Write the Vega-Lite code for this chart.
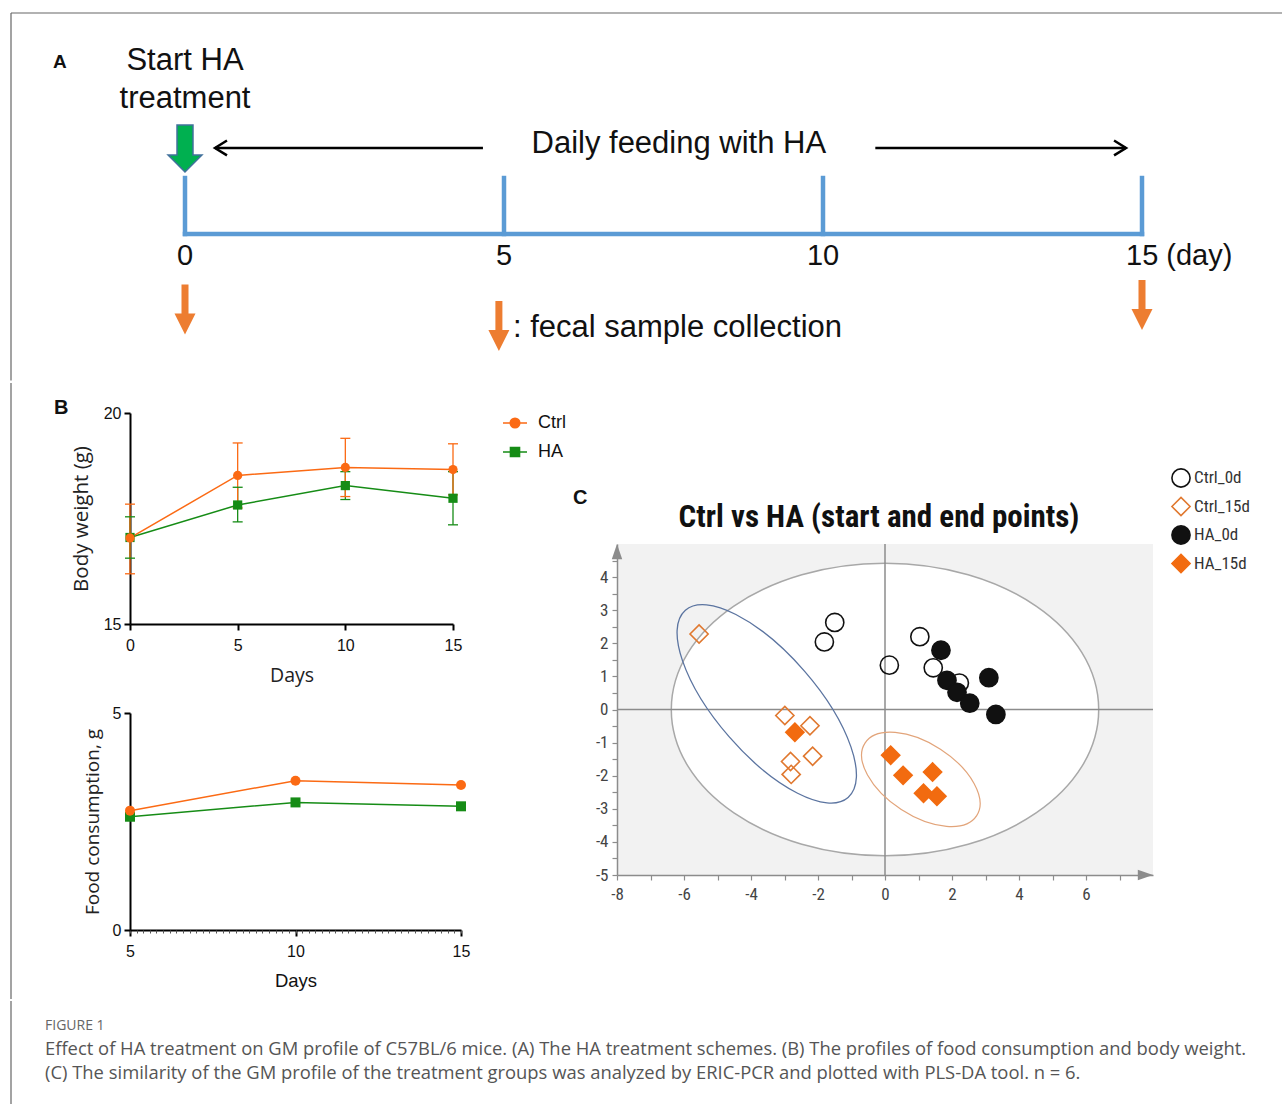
{
  "$schema": "https://vega.github.io/schema/vega-lite/v6.json",
  "background": "#ffffff",
  "padding": {"left": 10, "top": 12, "right": 0, "bottom": 0},
  "spacing": 0,
  "config": {"view": {"stroke": null}, "axis": {"grid": false, "labelFlush": false}},
  "resolve": {"scale": {"shape": "independent", "fill": "independent", "stroke": "independent", "color": "independent"}, "legend": {"shape": "independent", "fill": "independent", "stroke": "independent", "color": "independent"}},
  "datasets": {
    "bw": [
      {"day": 0, "group": "HA", "mean": 17.05, "lo": 16.56, "hi": 17.54},
      {"day": 5, "group": "HA", "mean": 17.82, "lo": 17.42, "hi": 18.24},
      {"day": 10, "group": "HA", "mean": 18.28, "lo": 17.95, "hi": 18.61},
      {"day": 15, "group": "HA", "mean": 17.98, "lo": 17.35, "hi": 18.61},
      {"day": 0, "group": "Ctrl", "mean": 17.04, "lo": 16.19, "hi": 17.84},
      {"day": 5, "group": "Ctrl", "mean": 18.52, "lo": 17.75, "hi": 19.29},
      {"day": 10, "group": "Ctrl", "mean": 18.71, "lo": 18.02, "hi": 19.40},
      {"day": 15, "group": "Ctrl", "mean": 18.66, "lo": 18.06, "hi": 19.27}
    ],
    "food": [
      {"day": 5, "group": "HA", "val": 2.61},
      {"day": 10, "group": "HA", "val": 2.94},
      {"day": 15, "group": "HA", "val": 2.85},
      {"day": 5, "group": "Ctrl", "val": 2.75},
      {"day": 10, "group": "Ctrl", "val": 3.44},
      {"day": 15, "group": "Ctrl", "val": 3.34}
    ],
    "pls": [
      {"group": "Ctrl_0d", "x": -1.50, "y": 2.63},
      {"group": "Ctrl_0d", "x": -1.81, "y": 2.04},
      {"group": "Ctrl_0d", "x": 1.04, "y": 2.20},
      {"group": "Ctrl_0d", "x": 0.13, "y": 1.34},
      {"group": "Ctrl_0d", "x": 1.44, "y": 1.26},
      {"group": "Ctrl_0d", "x": 2.22, "y": 0.80},
      {"group": "Ctrl_15d", "x": -5.55, "y": 2.28},
      {"group": "Ctrl_15d", "x": -2.99, "y": -0.18},
      {"group": "Ctrl_15d", "x": -2.24, "y": -0.49},
      {"group": "Ctrl_15d", "x": -2.16, "y": -1.41},
      {"group": "Ctrl_15d", "x": -2.82, "y": -1.57},
      {"group": "Ctrl_15d", "x": -2.80, "y": -1.96},
      {"group": "HA_0d", "x": 1.67, "y": 1.79},
      {"group": "HA_0d", "x": 1.85, "y": 0.88},
      {"group": "HA_0d", "x": 2.15, "y": 0.52},
      {"group": "HA_0d", "x": 2.53, "y": 0.19},
      {"group": "HA_0d", "x": 3.10, "y": 0.96},
      {"group": "HA_0d", "x": 3.31, "y": -0.15},
      {"group": "HA_15d", "x": -2.69, "y": -0.69},
      {"group": "HA_15d", "x": 0.17, "y": -1.38},
      {"group": "HA_15d", "x": 0.54, "y": -1.99},
      {"group": "HA_15d", "x": 1.42, "y": -1.89},
      {"group": "HA_15d", "x": 1.15, "y": -2.53},
      {"group": "HA_15d", "x": 1.55, "y": -2.62}
    ]
  },
  "vconcat": [
    {
      "width": 1272,
      "height": 367.6,
      "encoding": {
        "x": {"field": "d", "type": "quantitative", "scale": {"domain": [-2.7273, 17.21], "nice": false, "zero": false}, "axis": null},
        "y": {"field": "v", "type": "quantitative", "scale": {"domain": [0, 9.523], "reverse": true, "nice": false, "zero": false}, "axis": null}
      },
      "layer": [
        {
          "data": {"values": [{"d": -2.7273, "v": 0, "d2": 17.21, "v2": 0}, {"d": -2.7273, "v": 0, "d2": -2.7273, "v2": 9.523}]},
          "mark": {"type": "rule", "stroke": "#666666", "strokeWidth": 1.2},
          "encoding": {"x2": {"field": "d2"}, "y2": {"field": "v2"}}
        },
        {
          "data": {"values": [
            {"d": 0, "v": 5.725, "d2": 15, "v2": 5.725},
            {"d": 0, "v": 4.275, "d2": 0, "v2": 5.725},
            {"d": 5, "v": 4.275, "d2": 5, "v2": 5.725},
            {"d": 10, "v": 4.275, "d2": 10, "v2": 5.725},
            {"d": 15, "v": 4.275, "d2": 15, "v2": 5.725}
          ]},
          "mark": {"type": "rule", "stroke": "#5B9BD5", "strokeWidth": 4.5, "strokeCap": "square"},
          "encoding": {"x2": {"field": "d2"}, "y2": {"field": "v2"}}
        },
        {
          "data": {"values": [{"d": 0.47, "v": 3.497, "d2": 4.67, "v2": 3.497}, {"d": 10.82, "v": 3.497, "d2": 14.75, "v2": 3.497}]},
          "mark": {"type": "rule", "stroke": "#000000", "strokeWidth": 2.5},
          "encoding": {"x2": {"field": "d2"}, "y2": {"field": "v2"}}
        },
        {
          "data": {"values": [{"d": 0.47, "v": 3.497}]},
          "mark": {"type": "point", "shape": "M1,-0.62L0,0L1,0.62", "filled": false, "stroke": "#000000", "strokeWidth": 2.5, "size": 576, "opacity": 1}
        },
        {
          "data": {"values": [{"d": 14.75, "v": 3.497}]},
          "mark": {"type": "point", "shape": "M-1,-0.62L0,0L-1,0.62", "filled": false, "stroke": "#000000", "strokeWidth": 2.5, "size": 576, "opacity": 1}
        },
        {
          "data": {"values": [{"d": 0, "v": 3.51}]},
          "mark": {"type": "point", "shape": "M-0.34,-1L0.34,-1L0.34,0.28L0.72,0.28L0,1L-0.72,0.28L-0.34,0.28Z", "size": 2209, "filled": true, "fill": "#00B050", "stroke": "#41719C", "strokeWidth": 1.5, "opacity": 1}
        },
        {
          "data": {"values": [{"d": 0, "v": 7.681}, {"d": 4.92, "v": 8.109}, {"d": 15, "v": 7.565}]},
          "mark": {"type": "point", "shape": "M-0.14,-1L0.14,-1L0.14,0.16L0.42,0.16L0,1L-0.42,0.16L-0.14,0.16Z", "size": 2500, "filled": true, "fill": "#ED7D31", "strokeWidth": 0, "opacity": 1}
        },
        {
          "data": {"values": [{"d": -2.069, "v": 1.269, "t": "A"}]},
          "mark": {"type": "text", "align": "left", "baseline": "middle", "font": "Liberation Sans", "fontSize": 19, "fontWeight": "bold", "fill": "#111111"},
          "encoding": {"text": {"field": "t"}}
        },
        {
          "data": {"values": [{"d": 0, "v": 1.244, "t": "Start HA\ntreatment"}, {"d": 7.74, "v": 3.394, "t": "Daily feeding with HA"}]},
          "mark": {"type": "text", "align": "center", "baseline": "middle", "font": "Liberation Sans", "fontSize": 31, "lineBreak": "\n", "lineHeight": 38, "fill": "#111111"},
          "encoding": {"text": {"field": "t"}}
        },
        {
          "data": {"values": [{"d": 0, "v": 6.295, "t": "0"}, {"d": 5, "v": 6.295, "t": "5"}, {"d": 10, "v": 6.295, "t": "10"}]},
          "mark": {"type": "text", "align": "center", "baseline": "middle", "font": "Liberation Sans", "fontSize": 29, "fill": "#111111"},
          "encoding": {"text": {"field": "t"}}
        },
        {
          "data": {"values": [{"d": 15, "v": 6.295, "t": "15 (day)"}]},
          "mark": {"type": "text", "align": "left", "baseline": "middle", "dx": -16, "font": "Liberation Sans", "fontSize": 29, "fill": "#111111"},
          "encoding": {"text": {"field": "t"}}
        },
        {
          "data": {"values": [{"d": 5.14, "v": 8.161, "t": ": fecal sample collection"}]},
          "mark": {"type": "text", "align": "left", "baseline": "middle", "font": "Liberation Sans", "fontSize": 31, "fill": "#111111"},
          "encoding": {"text": {"field": "t"}}
        }
      ]
    },
    {
      "spacing": 7,
      "resolve": {"scale": {"shape": "independent", "fill": "independent", "stroke": "independent"}, "legend": {"shape": "independent", "fill": "independent", "stroke": "independent"}},
      "hconcat": [
        {
          "width": 35,
          "height": 586,
          "data": {"values": [{"p": 0, "y": -0.0512, "y2": 1}]},
          "mark": {"type": "rule", "stroke": "#666666", "strokeWidth": 1.2},
          "encoding": {
            "x": {"field": "p", "type": "quantitative", "scale": {"domain": [0, 1]}, "axis": null},
            "y": {"field": "y", "type": "quantitative", "scale": {"domain": [0, 1], "reverse": true, "nice": false, "zero": false}, "axis": null},
            "y2": {"field": "y2"}
          }
        },
        {
          "spacing": 20,
          "resolve": {"scale": {"shape": "independent", "fill": "independent", "stroke": "independent"}, "legend": {"shape": "independent", "fill": "independent", "stroke": "independent"}},
          "vconcat": [
            {
              "width": 323,
              "height": 211,
              "layer": [
                {
                  "data": {"name": "bw"},
                  "mark": {"type": "rule", "strokeWidth": 1.3},
                  "encoding": {
                    "x": {"field": "day", "type": "quantitative", "scale": {"domain": [0, 15], "nice": false, "zero": false},
                      "axis": {"values": [0, 5, 10, 15], "labelFlush": false, "title": "Days", "titleFont": "Open Sans", "titleFontSize": 19.5, "titleFontWeight": "normal", "titleColor": "#222222", "titlePadding": 13, "labelFont": "Liberation Sans", "labelFontSize": 16, "labelColor": "#111111", "labelPadding": 7, "domainColor": "#000000", "domainWidth": 2, "tickColor": "#000000", "tickWidth": 2, "tickSize": 6, "grid": false}},
                    "y": {"field": "lo", "type": "quantitative", "scale": {"domain": [15, 20], "nice": false, "zero": false},
                      "axis": {"values": [15, 20], "labelFlush": false, "title": "Body weight (g)", "titleFont": "Open Sans", "titleFontSize": 20.5, "titleFontWeight": "normal", "titleColor": "#222222", "titlePadding": 12, "labelFont": "Liberation Sans", "labelFontSize": 16, "labelColor": "#111111", "labelPadding": 3, "domainColor": "#000000", "domainWidth": 2, "tickColor": "#000000", "tickWidth": 2, "tickSize": 6, "grid": false}},
                    "y2": {"field": "hi"},
                    "stroke": {"field": "group", "type": "nominal", "scale": {"domain": ["Ctrl", "HA"], "range": ["#FB6A14", "#168C16"]}}
                  }
                },
                {
                  "data": {"name": "bw"},
                  "mark": {"type": "tick", "orient": "horizontal", "size": 10, "thickness": 1.3, "opacity": 1},
                  "encoding": {
                    "x": {"field": "day", "type": "quantitative", "scale": {"domain": [0, 15], "nice": false, "zero": false}},
                    "y": {"field": "lo", "type": "quantitative", "scale": {"domain": [15, 20], "nice": false, "zero": false}},
                    "fill": {"field": "group", "type": "nominal", "scale": {"domain": ["Ctrl", "HA"], "range": ["#FB6A14", "#168C16"]}}
                  }
                },
                {
                  "data": {"name": "bw"},
                  "mark": {"type": "tick", "orient": "horizontal", "size": 10, "thickness": 1.3, "opacity": 1},
                  "encoding": {
                    "x": {"field": "day", "type": "quantitative", "scale": {"domain": [0, 15], "nice": false, "zero": false}},
                    "y": {"field": "hi", "type": "quantitative", "scale": {"domain": [15, 20], "nice": false, "zero": false}},
                    "fill": {"field": "group", "type": "nominal", "scale": {"domain": ["Ctrl", "HA"], "range": ["#FB6A14", "#168C16"]}}
                  }
                },
                {
                  "data": {"name": "bw"},
                  "mark": {"type": "line", "strokeWidth": 1.5},
                  "encoding": {
                    "x": {"field": "day", "type": "quantitative", "scale": {"domain": [0, 15], "nice": false, "zero": false}},
                    "y": {"field": "mean", "type": "quantitative", "scale": {"domain": [15, 20], "nice": false, "zero": false}},
                    "stroke": {"field": "group", "type": "nominal", "scale": {"domain": ["Ctrl", "HA"], "range": ["#FB6A14", "#168C16"]},
                      "legend": {"title": null, "orient": "none", "legendX": 372, "legendY": -3, "symbolSize": 576, "symbolStrokeWidth": 1.5, "labelFont": "Liberation Sans", "labelFontSize": 18, "labelColor": "#111111", "labelOffset": 10, "rowPadding": 7,
                        "symbolType": {"expr": "datum.value === 'Ctrl' ? 'M-1,0L1,0M0.4,0A0.4,0.4,0,1,1,-0.4,0A0.4,0.4,0,1,1,0.4,0Z' : 'M-1,0L1,0M-0.38,-0.38L0.38,-0.38L0.38,0.38L-0.38,0.38Z'"}}}
                  }
                },
                {
                  "data": {"name": "bw"},
                  "transform": [{"filter": "datum.group === 'HA'"}],
                  "mark": {"type": "point", "shape": "square", "filled": true, "fill": "#168C16", "size": 85, "opacity": 1},
                  "encoding": {
                    "x": {"field": "day", "type": "quantitative", "scale": {"domain": [0, 15], "nice": false, "zero": false}},
                    "y": {"field": "mean", "type": "quantitative", "scale": {"domain": [15, 20], "nice": false, "zero": false}}
                  }
                },
                {
                  "data": {"name": "bw"},
                  "transform": [{"filter": "datum.group === 'Ctrl'"}],
                  "mark": {"type": "point", "shape": "circle", "filled": true, "fill": "#FB6A14", "size": 85, "opacity": 1},
                  "encoding": {
                    "x": {"field": "day", "type": "quantitative", "scale": {"domain": [0, 15], "nice": false, "zero": false}},
                    "y": {"field": "mean", "type": "quantitative", "scale": {"domain": [15, 20], "nice": false, "zero": false}}
                  }
                },
                {
                  "data": {"values": [{"day": -3.53, "mean": 20.12, "t": "B"}]},
                  "mark": {"type": "text", "align": "left", "baseline": "middle", "font": "Liberation Sans", "fontSize": 20, "fontWeight": "bold", "fill": "#111111"},
                  "encoding": {
                    "x": {"field": "day", "type": "quantitative", "scale": {"domain": [0, 15], "nice": false, "zero": false}},
                    "y": {"field": "mean", "type": "quantitative", "scale": {"domain": [15, 20], "nice": false, "zero": false}},
                    "text": {"field": "t"}
                  }
                }
              ]
            },
            {
              "width": 331,
              "height": 217,
              "resolve": {"axis": {"x": "independent"}},
              "layer": [
                {
                  "data": {"name": "food"},
                  "mark": {"type": "line", "strokeWidth": 1.5},
                  "encoding": {
                    "x": {"field": "day", "type": "quantitative", "scale": {"domain": [5, 15], "nice": false, "zero": false},
                      "axis": {"values": [5, 10, 15], "labelFlush": false, "orient": "bottom", "title": "Days", "titleFont": "Liberation Sans", "titleFontSize": 18.5, "titleFontWeight": "normal", "titleColor": "#111111", "titlePadding": 12, "labelFont": "Liberation Sans", "labelFontSize": 16, "labelColor": "#111111", "labelPadding": 7, "domainColor": "#000000", "domainWidth": 2, "tickColor": "#000000", "tickWidth": 2, "tickSize": 6, "grid": false}},
                    "y": {"field": "val", "type": "quantitative", "scale": {"domain": [0, 5], "nice": false, "zero": false},
                      "axis": {"values": [0, 5], "labelFlush": false, "title": "Food consumption, g", "titleFont": "Open Sans", "titleFontSize": 19, "titleFontWeight": "normal", "titleColor": "#222222", "titlePadding": 10, "labelFont": "Liberation Sans", "labelFontSize": 16, "labelColor": "#111111", "labelPadding": 3, "domainColor": "#000000", "domainWidth": 2, "tickColor": "#000000", "tickWidth": 2, "tickSize": 6, "grid": false}},
                    "stroke": {"field": "group", "type": "nominal", "scale": {"domain": ["Ctrl", "HA"], "range": ["#FB6A14", "#168C16"]}, "legend": null}
                  }
                },
                {
                  "data": {"name": "food"},
                  "mark": {"type": "point", "filled": true, "size": 100, "opacity": 1},
                  "encoding": {
                    "x": {"field": "day", "type": "quantitative", "scale": {"domain": [5, 15], "nice": false, "zero": false}, "axis": null},
                    "y": {"field": "val", "type": "quantitative", "scale": {"domain": [0, 5], "nice": false, "zero": false}},
                    "shape": {"field": "group", "type": "nominal", "scale": {"domain": ["Ctrl", "HA"], "range": ["circle", "square"]}, "legend": null},
                    "fill": {"field": "group", "type": "nominal", "scale": {"domain": ["Ctrl", "HA"], "range": ["#FB6A14", "#168C16"]}, "legend": null}
                  }
                },
                {
                  "data": {"name": "food"},
                  "mark": {"type": "point", "opacity": 0},
                  "encoding": {
                    "x": {"field": "day", "type": "quantitative", "scale": {"domain": [5, 15], "nice": false, "zero": false},
                      "axis": {"orient": "bottom", "tickCount": 50, "labels": false, "domain": false, "ticks": true, "tickSize": 3, "tickColor": "#555555", "tickWidth": 1, "title": null, "grid": false}},
                    "y": {"field": "val", "type": "quantitative", "scale": {"domain": [0, 5], "nice": false, "zero": false}}
                  }
                }
              ]
            }
          ]
        },
        {
          "spacing": 0,
          "resolve": {"scale": {"shape": "independent", "fill": "independent", "stroke": "independent"}, "legend": {"shape": "independent", "fill": "independent", "stroke": "independent"}},
          "vconcat": [
            {
              "width": 1,
              "height": 55,
              "data": {"values": [{}]},
              "mark": {"type": "point", "opacity": 0}
            },
            {
              "width": 536,
              "height": 331,
              "view": {"fill": "#F2F2F2", "stroke": null},
              "encoding": {
                "x": {"field": "x", "type": "quantitative", "scale": {"domain": [-8, 8], "nice": false, "zero": false},
                  "axis": {"values": [-8, -7, -6, -5, -4, -3, -2, -1, 0, 1, 2, 3, 4, 5, 6, 7], "labelFlush": false, "labelExpr": "datum.value % 2 === 0 ? '' + datum.value : ''", "title": null, "grid": false, "domainColor": "#8C8C8C", "domainWidth": 1.5, "tickColor": "#8C8C8C", "tickSize": 5, "tickWidth": 1.2, "labelFont": "Liberation Sans Narrow, Roboto Condensed, DejaVu Sans Condensed, sans-serif", "labelFontSize": 17, "labelColor": "#444444", "labelPadding": 6}},
                "y": {"field": "y", "type": "quantitative", "scale": {"domain": [-5, 5], "nice": false, "zero": false},
                  "axis": {"values": [-5, -4.5, -4, -3.5, -3, -2.5, -2, -1.5, -1, -0.5, 0, 0.5, 1, 1.5, 2, 2.5, 3, 3.5, 4, 4.5], "labelFlush": false, "labelExpr": "datum.value % 1 === 0 ? '' + datum.value : ''", "title": null, "grid": false, "domainColor": "#8C8C8C", "domainWidth": 1.5, "tickColor": "#8C8C8C", "tickSize": 5, "tickWidth": 1.2, "labelFont": "Liberation Sans Narrow, Roboto Condensed, DejaVu Sans Condensed, sans-serif", "labelFontSize": 17, "labelColor": "#444444", "labelPadding": 4}}
              },
              "layer": [
                {
                  "data": {"values": [{"x": 0, "y": 0}]},
                  "mark": {"type": "point", "shape": "M-1,0C-1,-0.3781 -0.5523,-0.6846 0,-0.6846C0.5523,-0.6846 1,-0.3781 1,0C1,0.3781 0.5523,0.6846 0,0.6846C-0.5523,0.6846 -1,0.3781 -1,0Z", "size": 182671, "filled": true, "fill": "#FFFFFF", "stroke": "#A8A8A8", "strokeWidth": 1.5, "opacity": 1}
                },
                {
                  "data": {"values": [{"x": 0, "y": -5, "y2": 5}]},
                  "mark": {"type": "rule", "stroke": "#8C8C8C", "strokeWidth": 1.5},
                  "encoding": {"y2": {"field": "y2"}}
                },
                {
                  "data": {"values": [{"x": -8, "x2": 8, "y": 0}]},
                  "mark": {"type": "rule", "stroke": "#8C8C8C", "strokeWidth": 1.5},
                  "encoding": {"x2": {"field": "x2"}}
                },
                {
                  "data": {"values": [{"x": -3.53, "y": 0.17}]},
                  "mark": {"type": "point", "shape": "M-1,0C-1,-0.2226 -0.5523,-0.403 0,-0.403C0.5523,-0.403 1,-0.2226 1,0C1,0.2226 0.5523,0.403 0,0.403C-0.5523,0.403 -1,0.2226 -1,0Z", "size": 61504, "angle": 49, "filled": false, "stroke": "#5B74A0", "strokeWidth": 1.3, "opacity": 1}
                },
                {
                  "data": {"values": [{"x": 1.07, "y": -2.11}]},
                  "mark": {"type": "point", "shape": "M-1,0C-1,-0.2982 -0.5523,-0.54 0,-0.54C0.5523,-0.54 1,-0.2982 1,0C1,0.2982 0.5523,0.54 0,0.54C-0.5523,0.54 -1,0.2982 -1,0Z", "size": 17742, "angle": 33, "filled": false, "stroke": "#E2A47A", "strokeWidth": 1.2, "opacity": 1}
                },
                {
                  "data": {"name": "pls"},
                  "mark": {"type": "point", "size": 330, "strokeWidth": 1.6, "opacity": 1},
                  "encoding": {
                    "shape": {"field": "group", "type": "nominal", "scale": {"domain": ["Ctrl_0d", "Ctrl_15d", "HA_0d", "HA_15d"], "range": ["circle", "diamond", "circle", "diamond"]},
                      "legend": {"title": null, "orient": "none", "legendX": 554, "legendY": -76, "labelFont": "Liberation Sans Narrow, Roboto Condensed, DejaVu Sans Condensed, sans-serif", "labelFontSize": 17, "labelColor": "#333333", "symbolSize": 330, "symbolStrokeWidth": 1.6, "rowPadding": 2.5, "labelOffset": 3}},
                    "stroke": {"field": "group", "type": "nominal", "scale": {"domain": ["Ctrl_0d", "Ctrl_15d", "HA_0d", "HA_15d"], "range": ["#111111", "#E0782F", "#111111", "#F26B10"]},
                      "legend": {"title": null, "orient": "none", "legendX": 554, "legendY": -76, "labelFont": "Liberation Sans Narrow, Roboto Condensed, DejaVu Sans Condensed, sans-serif", "labelFontSize": 17, "labelColor": "#333333", "symbolSize": 330, "symbolStrokeWidth": 1.6, "rowPadding": 2.5, "labelOffset": 3}},
                    "fill": {"field": "group", "type": "nominal", "scale": {"domain": ["Ctrl_0d", "Ctrl_15d", "HA_0d", "HA_15d"], "range": ["transparent", "transparent", "#111111", "#F26B10"]},
                      "legend": {"title": null, "orient": "none", "legendX": 554, "legendY": -76, "labelFont": "Liberation Sans Narrow, Roboto Condensed, DejaVu Sans Condensed, sans-serif", "labelFontSize": 17, "labelColor": "#333333", "symbolSize": 330, "symbolStrokeWidth": 1.6, "rowPadding": 2.5, "labelOffset": 3}}
                  }
                },
                {
                  "data": {"values": [{"x": -8, "y": 5}]},
                  "mark": {"type": "point", "shape": "M0,0L0.55,1.6L-0.55,1.6Z", "filled": true, "fill": "#8C8C8C", "strokeWidth": 0, "size": 361, "opacity": 1}
                },
                {
                  "data": {"values": [{"x": 8, "y": -5}]},
                  "mark": {"type": "point", "shape": "M0,0L-1.6,-0.55L-1.6,0.55Z", "filled": true, "fill": "#8C8C8C", "strokeWidth": 0, "size": 361, "opacity": 1}
                },
                {
                  "data": {"values": [{"x": -9.31, "y": 6.39, "t": "C"}]},
                  "mark": {"type": "text", "align": "left", "baseline": "middle", "font": "Liberation Sans", "fontSize": 20, "fontWeight": "bold", "fill": "#111111"},
                  "encoding": {"text": {"field": "t"}}
                },
                {
                  "data": {"values": [{"x": -0.18, "y": 5.8, "t": "Ctrl vs HA (start and end points)"}]},
                  "mark": {"type": "text", "align": "center", "baseline": "middle", "font": "Liberation Sans Narrow, Roboto Condensed, DejaVu Sans Condensed, sans-serif", "fontSize": 31, "fontWeight": "bold", "fill": "#111111"},
                  "encoding": {"text": {"field": "t"}}
                }
              ]
            }
          ]
        }
      ]
    },
    {
      "width": 1272,
      "height": 106,
      "encoding": {
        "x": {"field": "p", "type": "quantitative", "scale": {"domain": [0, 1], "nice": false, "zero": false}, "axis": null}
      },
      "layer": [
        {
          "data": {"values": [{"p": 0}]},
          "mark": {"type": "rule", "stroke": "#666666", "strokeWidth": 1.2}
        },
        {
          "data": {"values": [{"p": 0.02673, "r": 2.35, "t": "FIGURE 1"}]},
          "mark": {"type": "text", "align": "left", "baseline": "middle", "font": "Open Sans", "fontSize": 14, "fill": "#666666"},
          "encoding": {
            "y": {"field": "r", "type": "quantitative", "scale": {"domain": [0, 10], "reverse": true, "nice": false, "zero": false}, "axis": null},
            "text": {"field": "t"}
          }
        },
        {
          "data": {"values": [
            {"p": 0.02673, "r": 4.55, "t": "Effect of HA treatment on GM profile of C57BL/6 mice. (A) The HA treatment schemes. (B) The profiles of food consumption and body weight."},
            {"p": 0.02673, "r": 6.82, "t": "(C) The similarity of the GM profile of the treatment groups was analyzed by ERIC-PCR and plotted with PLS-DA tool. n = 6."}
          ]},
          "mark": {"type": "text", "align": "left", "baseline": "middle", "font": "Open Sans", "fontSize": 18.4, "fill": "#555555"},
          "encoding": {
            "y": {"field": "r", "type": "quantitative", "scale": {"domain": [0, 10], "reverse": true, "nice": false, "zero": false}, "axis": null},
            "text": {"field": "t"}
          }
        }
      ]
    }
  ]
}
